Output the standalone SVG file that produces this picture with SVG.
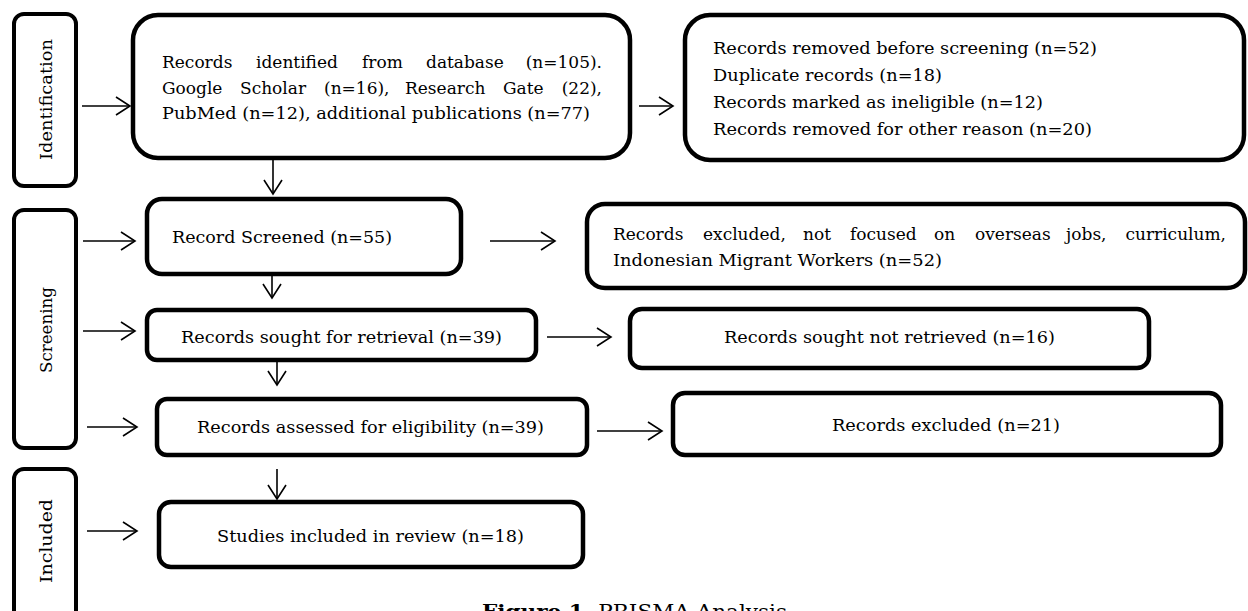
<svg xmlns="http://www.w3.org/2000/svg" width="1248" height="611" viewBox="0 0 1248 611">
<style>
.box{fill:#fff;stroke:#000;stroke-width:4.5}
.lbl{fill:#fff;stroke:#000;stroke-width:4}
text{font-family:"DejaVu Serif","Liberation Serif",serif;font-size:17px;fill:#000}
.end{text-anchor:end}
.conn{stroke:#000;stroke-width:1.6;fill:none;marker-end:url(#arr)}
</style>
<defs>
<marker id="arr" markerUnits="userSpaceOnUse" markerWidth="20" markerHeight="22" refX="15" refY="11" orient="auto">
<path d="M1,2 L15,11 L1,20" fill="none" stroke="#000" stroke-width="1.6"/>
</marker>
</defs>
<rect width="1248" height="611" fill="#fff"/>

<g id="label-identification">
<rect class="lbl" x="14" y="14" width="62" height="172" rx="10"/>
<text transform="translate(52,160) rotate(-90)" textLength="121" lengthAdjust="spacingAndGlyphs">Identification</text>
</g>
<g id="label-screening">
<rect class="lbl" x="14" y="210" width="62" height="238" rx="10"/>
<text transform="translate(52,373) rotate(-90)" textLength="86" lengthAdjust="spacingAndGlyphs">Screening</text>
</g>
<g id="label-included">
<rect class="lbl" x="14" y="469" width="62" height="160" rx="10"/>
<text transform="translate(52,583) rotate(-90)" textLength="84" lengthAdjust="spacingAndGlyphs">Included</text>
</g>

<g id="node-identified">
<rect class="box" x="133" y="15" width="497" height="143" rx="25"/>
<text x="162" y="68">Records</text>
<text x="256" y="68">identified</text>
<text x="362" y="68">from</text>
<text x="426" y="68">database</text>
<text class="end" x="602" y="68">(n=105).</text>
<text x="162" y="94">Google</text>
<text x="240" y="94">Scholar</text>
<text x="324" y="94">(n=16),</text>
<text x="405" y="94">Research</text>
<text x="503" y="94">Gate</text>
<text class="end" x="602" y="94">(22),</text>
<text x="162" y="119" textLength="428" lengthAdjust="spacingAndGlyphs">PubMed (n=12), additional publications (n=77)</text>
</g>

<g id="node-removed">
<rect class="box" x="685" y="15" width="559" height="145" rx="25"/>
<text x="713" y="54" textLength="384" lengthAdjust="spacingAndGlyphs">Records removed before screening (n=52)</text>
<text x="713" y="81" textLength="229" lengthAdjust="spacingAndGlyphs">Duplicate records (n=18)</text>
<text x="713" y="108" textLength="330" lengthAdjust="spacingAndGlyphs">Records marked as ineligible (n=12)</text>
<text x="713" y="135" textLength="379" lengthAdjust="spacingAndGlyphs">Records removed for other reason (n=20)</text>
</g>

<g id="node-screened">
<rect class="box" x="147" y="199" width="314" height="75" rx="15"/>
<text x="172" y="243" textLength="220" lengthAdjust="spacingAndGlyphs">Record Screened (n=55)</text>
</g>

<g id="node-excluded-focus">
<rect class="box" x="587" y="204" width="658" height="84" rx="18"/>
<text x="613" y="240">Records</text>
<text x="703" y="240">excluded,</text>
<text x="803" y="240">not</text>
<text x="850" y="240">focused</text>
<text x="934" y="240">on</text>
<text x="975" y="240">overseas</text>
<text x="1066" y="240">jobs,</text>
<text class="end" x="1226" y="240">curriculum,</text>
<text x="613" y="266" textLength="329" lengthAdjust="spacingAndGlyphs">Indonesian Migrant Workers (n=52)</text>
</g>

<g id="node-sought">
<rect class="box" x="147" y="310" width="389" height="50" rx="10"/>
<text x="181" y="343" textLength="321" lengthAdjust="spacingAndGlyphs">Records sought for retrieval (n=39)</text>
</g>

<g id="node-not-retrieved">
<rect class="box" x="630" y="309" width="519" height="59" rx="12"/>
<text x="724" y="343" textLength="331" lengthAdjust="spacingAndGlyphs">Records sought not retrieved (n=16)</text>
</g>

<g id="node-assessed">
<rect class="box" x="157" y="399" width="430" height="56" rx="10"/>
<text x="197" y="433" textLength="347" lengthAdjust="spacingAndGlyphs">Records assessed for eligibility (n=39)</text>
</g>

<g id="node-excluded">
<rect class="box" x="673" y="393" width="548" height="62" rx="12"/>
<text x="832" y="431" textLength="228" lengthAdjust="spacingAndGlyphs">Records excluded (n=21)</text>
</g>

<g id="node-included">
<rect class="box" x="159" y="502" width="424" height="65" rx="12"/>
<text x="217" y="542" textLength="307" lengthAdjust="spacingAndGlyphs">Studies included in review (n=18)</text>
</g>

<g id="connectors">
<line class="conn" x1="82" y1="106" x2="130" y2="106"/>
<line class="conn" x1="639" y1="106" x2="673" y2="106"/>
<line class="conn" x1="273" y1="160" x2="273" y2="194"/>
<line class="conn" x1="83" y1="241" x2="135" y2="241"/>
<line class="conn" x1="490" y1="241" x2="555" y2="241"/>
<line class="conn" x1="272" y1="276" x2="272" y2="298"/>
<line class="conn" x1="83" y1="331" x2="135" y2="331"/>
<line class="conn" x1="547" y1="337" x2="611" y2="337"/>
<line class="conn" x1="277" y1="362" x2="277" y2="385"/>
<line class="conn" x1="87" y1="427" x2="137" y2="427"/>
<line class="conn" x1="597" y1="431" x2="662" y2="431"/>
<line class="conn" x1="277" y1="469" x2="277" y2="499"/>
<line class="conn" x1="87" y1="531" x2="137" y2="531"/>
</g>

<g id="caption">
<text x="482" y="618" style="font-size:18px" textLength="305" lengthAdjust="spacingAndGlyphs"><tspan font-weight="bold">Figure 1.</tspan> PRISMA Analysis</text>
</g>
</svg>
